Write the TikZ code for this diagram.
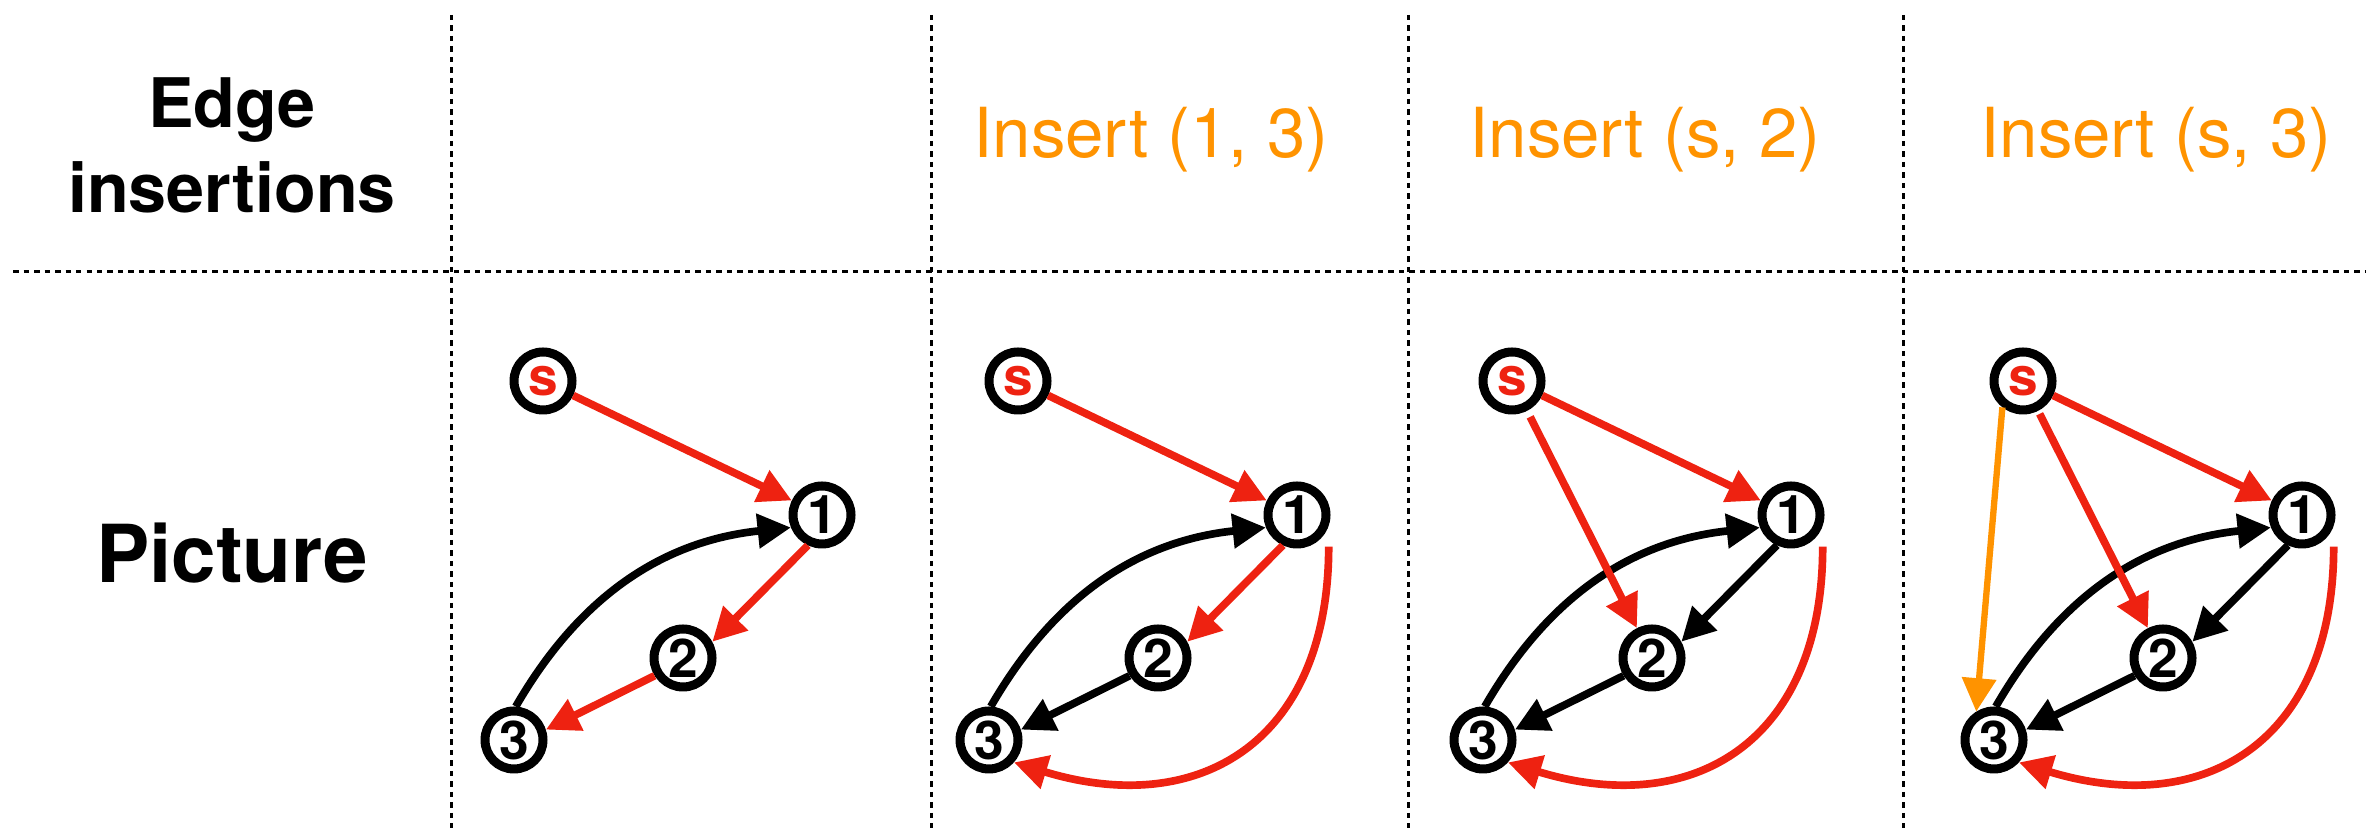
\documentclass[tikz,border=0pt]{standalone}
\usepackage{fontspec}
\setmainfont{TeX Gyre Heros}
\usetikzlibrary{arrows.meta}
\definecolor{kred}{RGB}{238,34,17}
\definecolor{korange}{RGB}{255,147,0}
\begin{document}
\begin{tikzpicture}[x=0.3pt,y=0.3pt,
  vnode/.style={circle,draw=black,line width=2.7pt,minimum size=17.4pt,inner sep=0pt,
    font=\fontsize{16}{16}\selectfont\bfseries},
  snode/.style={vnode,text=kred,font=\fontsize{16}{16}\selectfont\bfseries},
  blkarrow/.style={draw=black,line width=2.3pt,-{Triangle[length=10pt,width=10pt]}},
  redarrow/.style={blkarrow,draw=kred},
  orgarrow/.style={blkarrow,draw=korange,line width=1.9pt},
  gridline/.style={line width=0.9pt,dash pattern=on 1.65pt off 1.5pt},
  inslabel/.style={text=korange,anchor=base,font=\fontsize{20.7}{24}\selectfont}
]
\useasboundingbox (0,0) rectangle (2380,-828);

% grid
\draw[gridline] (13,-272) -- (2365,-272);
\foreach \gx in {451,931,1408,1903}{
  \draw[gridline] (\gx,-15) -- (\gx,-828);
}

% headers
\node[align=center,font=\fontsize{20.5}{25.5}\selectfont\bfseries] (hdr) at (232,-145) {Edge\\insertions};
\node[anchor=base,font=\fontsize{24}{28}\selectfont\bfseries] (pic) at (232,-583) {Picture};
\node[inslabel] (ins1) at (1151,-158) {Insert (1, 3)};
\node[inslabel] (ins2) at (1645,-158) {Insert (s, 2)};
\node[inslabel] (ins3) at (2156,-158) {Insert (s, 3)};

% graph 1
\begin{scope}[shift={(543,-381)}]
  \node[snode] (s1) at (0,0) {s};
  \node[vnode] (a1) at (279,-134) {1};
  \node[vnode] (b1) at (140,-277) {2};
  \node[vnode] (c1) at (-29,-359) {3};
  \draw[redarrow] (s1) -- (a1);
  \draw[redarrow] (a1.245) -- (b1.29);
  \draw[redarrow] (b1.212) -- (c1.18);
  \draw[blkarrow] (c1.87) to[out=60,in=186] (a1.202);
\end{scope}

% graph 2
\begin{scope}[shift={(1018,-381)}]
  \node[snode] (s2) at (0,0) {s};
  \node[vnode] (a2) at (279,-134) {1};
  \node[vnode] (b2) at (140,-277) {2};
  \node[vnode] (c2) at (-29,-359) {3};
  \draw[redarrow] (s2) -- (a2);
  \draw[redarrow] (a2.245) -- (b2.29);
  \draw[blkarrow] (b2.212) -- (c2.18);
  \draw[blkarrow] (c2.87) to[out=60,in=186] (a2.202);
  \draw[redarrow] ([shift={(8,-8)}]a2.-45) to[out=-90,in=-17,looseness=1.3] (c2.-42);
\end{scope}

% graph 3
\begin{scope}[shift={(1512,-381)}]
  \node[snode] (s3) at (0,0) {s};
  \node[vnode] (a3) at (279,-134) {1};
  \node[vnode] (b3) at (140,-277) {2};
  \node[vnode] (c3) at (-29,-359) {3};
  \draw[redarrow] (s3) -- (a3);
  \draw[blkarrow] (a3.245) -- (b3.29);
  \draw[blkarrow] (b3.212) -- (c3.18);
  \draw[blkarrow] (c3.87) to[out=60,in=186] (a3.202);
  \draw[redarrow] ([shift={(8,-8)}]a3.-45) to[out=-90,in=-17,looseness=1.3] (c3.-42);
  \draw[redarrow,shorten <=2pt] (s3) -- (b3);
\end{scope}

% graph 4
\begin{scope}[shift={(2023,-381)}]
  \node[snode] (s4) at (0,0) {s};
  \node[vnode] (a4) at (279,-134) {1};
  \node[vnode] (b4) at (140,-277) {2};
  \node[vnode] (c4) at (-29,-359) {3};
  \draw[redarrow] (s4) -- (a4);
  \draw[blkarrow] (a4.245) -- (b4.29);
  \draw[blkarrow] (b4.212) -- (c4.18);
  \draw[blkarrow] (c4.87) to[out=60,in=186] (a4.202);
  \draw[redarrow] ([shift={(8,-8)}]a4.-45) to[out=-90,in=-17,looseness=1.3] (c4.-42);
  \draw[redarrow,shorten <=1pt] (s4) -- (b4);
  \draw[orgarrow] (s4.232) -- (c4.122);
\end{scope}
\end{tikzpicture}
\end{document}
